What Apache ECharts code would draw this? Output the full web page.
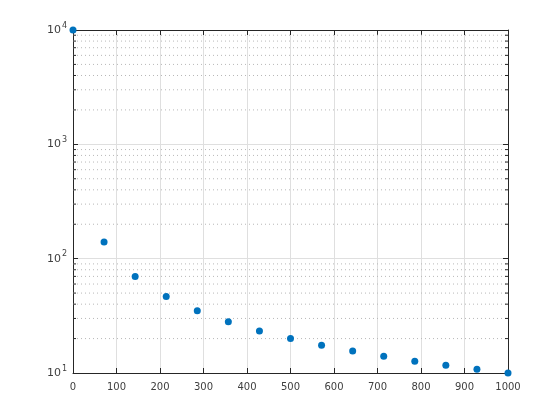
<!DOCTYPE html>
<html><head><meta charset="utf-8">
<script src="https://cdn.jsdelivr.net/npm/echarts@6/dist/echarts.min.js"></script>
<style>html,body{margin:0;padding:0;background:#fff}#c{width:560px;height:420px}</style>
</head><body><div id="c"></div>
<script>
var xValues = [0, 71.4, 142.9, 214.3, 285.7, 357.1, 428.6, 500, 571.4, 642.9, 714.3, 785.7, 857.1, 928.6, 1000];
var yValues = [10000, 140, 70, 46.7, 35, 28, 23.3, 20, 17.5, 15.6, 14, 12.7, 11.7, 10.8, 10];
var xTicks = [0, 100, 200, 300, 400, 500, 600, 700, 800, 900, 1000];
var yMajor = [10, 100, 1000, 10000];
var yMinor = [20, 30, 40, 50, 60, 70, 80, 90, 200, 300, 400, 500, 600, 700, 800, 900, 2000, 3000, 4000, 5000, 6000, 7000, 8000, 9000];

var axisColor = '#262626';
var font = 'DejaVu Sans';
var chart = echarts.init(document.getElementById('c'));
var pts = xValues.map(function (x, i) { return [x, yValues[i]]; });

chart.setOption({
  animation: false,
  grid: { left: 73, right: 52, top: 30, bottom: 47 },
  xAxis: [{
    type: 'value', min: 0, max: 1000, interval: 100, position: 'bottom',
    axisLine: { show: true, onZero: false, lineStyle: { color: axisColor, width: 1 } },
    axisTick: { show: true, inside: true, length: 5, lineStyle: { color: axisColor } },
    axisLabel: { color: '#404040', fontFamily: font, fontSize: 10, margin: 9,
      formatter: function (v) { return xTicks.indexOf(v) >= 0 ? String(v) : ''; } },
    splitLine: { show: true, lineStyle: { color: '#dfdfdf', width: 1 } }
  }, {
    type: 'value', min: 0, max: 1000, interval: 100, position: 'top',
    axisLine: { show: true, onZero: false, lineStyle: { color: axisColor, width: 1 } },
    axisTick: { show: true, inside: true, length: 5, lineStyle: { color: axisColor } },
    axisLabel: { show: false }, splitLine: { show: false }
  }],
  yAxis: [{
    type: 'log', logBase: 10, min: 10, max: 10000, position: 'left',
    axisLine: { show: true, onZero: false, lineStyle: { color: axisColor, width: 1 } },
    axisTick: { show: true, inside: true, length: 5, lineStyle: { color: axisColor } },
    axisLabel: {
      color: axisColor, fontFamily: font, fontSize: 10, margin: 6,
      formatter: function (v) {
        var e = Math.round(Math.log10(v));
        return '{b|10}{s|' + e + '}';
      },
      rich: {
        b: { fontFamily: font, fontSize: 11, color: '#404040' },
        s: { fontFamily: font, fontSize: 8, color: '#404040', verticalAlign: 'bottom', padding: [0, 0, 9, 1] }
      }
    },
    splitLine: { show: true, lineStyle: { color: '#dfdfdf', width: 1 } }
  }, {
    type: 'log', logBase: 10, min: 10, max: 10000, position: 'right',
    axisLine: { show: true, onZero: false, lineStyle: { color: axisColor, width: 1 } },
    axisTick: { show: true, inside: true, length: 5, lineStyle: { color: axisColor } },
    axisLabel: { show: false }, splitLine: { show: false }
  }],
  series: [{
    type: 'custom',
    xAxisIndex: 0, yAxisIndex: 0,
    silent: true, z: 1,
    data: yMinor.map(function (v) { return [0, v]; }),
    renderItem: function (params, api) {
      var v = api.value(1);
      var a = api.coord([0, v]);
      var b = api.coord([1000, v]);
      return {
        type: 'group',
        children: [{
          type: 'line',
          shape: { x1: a[0], y1: a[1], x2: b[0], y2: b[1] },
          style: { stroke: '#b8b8b8', lineWidth: 1, lineDash: [1, 3] }
        }, {
          type: 'line',
          shape: { x1: a[0], y1: a[1], x2: a[0] + 3, y2: a[1] },
          style: { stroke: axisColor, lineWidth: 1 }
        }, {
          type: 'line',
          shape: { x1: b[0] - 3, y1: b[1], x2: b[0], y2: b[1] },
          style: { stroke: axisColor, lineWidth: 1 }
        }]
      };
    }
  }, {
    type: 'scatter',
    xAxisIndex: 0, yAxisIndex: 0, z: 5,
    data: pts,
    symbol: 'circle', symbolSize: 7,
    itemStyle: { color: '#0072BD', opacity: 1 }
  }]
});
</script></body></html>
